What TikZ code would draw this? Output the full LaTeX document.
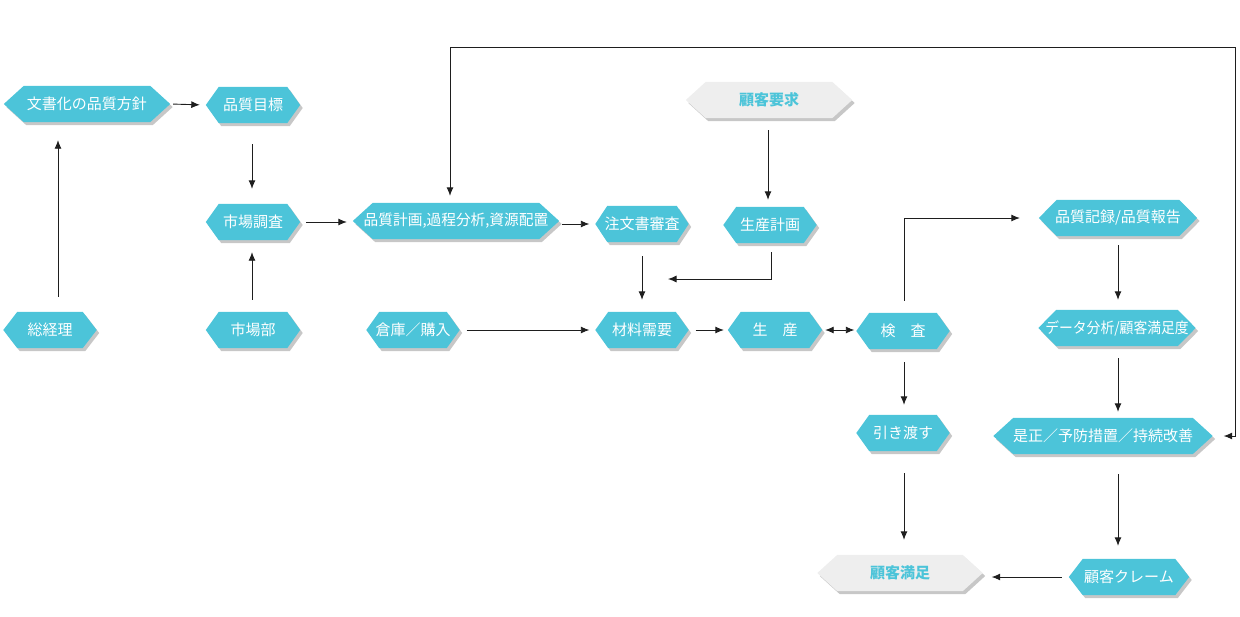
\documentclass[tikz,border=0pt]{standalone}
\usepackage{fontspec}
\newfontfamily\jp{Noto Sans CJK JP}
\usetikzlibrary{arrows.meta,backgrounds,calc}
\definecolor{hexcyan}{HTML}{4CC4D9}
\definecolor{hexgray}{HTML}{EEEEEE}
\definecolor{linec}{HTML}{1E1E1E}
\tikzset{
  hexlabel/.style={inner sep=0pt, minimum height=36pt, font=\jp\fontsize{15}{17}\selectfont},
  cyantext/.style={text=white},
  graytext/.style={text=hexcyan, font=\jp\bfseries\fontsize{15}{17}\selectfont},
  hexshadow/.style={fill=black!22},
  link/.style={draw=linec, line width=0.9pt, -{Latex[length=8.5pt,width=7pt]}},
  twolink/.style={draw=linec, line width=0.9pt, {Latex[length=8.5pt,width=7pt]}-{Latex[length=8.5pt,width=7pt]}}
}
% #1 text style, #2 fill colour, #3 name, #4 position, #5 width, #6 chamfer, #7 text
\newcommand\hexnode[7]{%
  \node[hexlabel,#1,minimum width=#5pt] (#3) at (#4) {#7};
  \begin{scope}[on background layer]
    \fill[hexshadow]
      ([shift={(2.5pt,-3pt)}]#3.west) -- ([shift={(2.5pt,-3pt)},xshift=#6pt]#3.north west)
      -- ([shift={(2.5pt,-3pt)},xshift=-#6pt]#3.north east)
      -- ([shift={(2.5pt,-3pt)}]#3.east) -- ([shift={(2.5pt,-3pt)},xshift=-#6pt]#3.south east)
      -- ([shift={(2.5pt,-3pt)},xshift=#6pt]#3.south west) -- cycle;
    \fill[#2]
      (#3.west) -- ([xshift=#6pt]#3.north west) -- ([xshift=-#6pt]#3.north east)
      -- (#3.east) -- ([xshift=-#6pt]#3.south east) -- ([xshift=#6pt]#3.south west) -- cycle;
  \end{scope}
}
\begin{document}
\begin{tikzpicture}[x=1pt,y=-1pt]
\useasboundingbox (0,0) rectangle (1240,616);

\hexnode{cyantext}{hexcyan}{A}{87,104}{166}{20}{文書化の品質方針}
\hexnode{cyantext}{hexcyan}{B}{253,105}{94}{13}{品質目標}
\hexnode{cyantext}{hexcyan}{C}{253,222}{94}{13}{市場調査}
\hexnode{cyantext}{hexcyan}{D}{253,330}{94}{13}{市場部}
\hexnode{cyantext}{hexcyan}{E}{50,330}{93}{14}{総経理}
\hexnode{cyantext}{hexcyan}{F}{413,330}{93}{13}{倉庫／購入}
\hexnode{cyantext}{hexcyan}{G}{456,221}{206}{20}{\scalebox{0.98}[1]{品質計画,過程分析,資源配置}}
\hexnode{cyantext}{hexcyan}{H}{642,224}{93}{12}{注文書審査}
\hexnode{graytext}{hexgray}{I}{769,100}{166}{20}{顧客要求}
\hexnode{cyantext}{hexcyan}{J}{770,225}{93}{13}{生産計画}
\hexnode{cyantext}{hexcyan}{K}{642,330}{93}{13}{材料需要}
\hexnode{cyantext}{hexcyan}{L}{775,330}{94}{13}{生　産}
\hexnode{cyantext}{hexcyan}{M}{903,331}{93}{13}{検　査}
\hexnode{cyantext}{hexcyan}{N}{903,433}{93}{13}{引き渡す}
\hexnode{graytext}{hexgray}{O}{900,573}{165}{20}{顧客満足}
\hexnode{cyantext}{hexcyan}{P}{1118,218}{158}{18}{品質記録/品質報告}
\hexnode{cyantext}{hexcyan}{Q}{1117,328}{157}{18}{\scalebox{0.92}[1]{データ分析/顧客満足度}}
\hexnode{cyantext}{hexcyan}{R}{1103,436}{219}{20}{是正／予防措置／持続改善}
\hexnode{cyantext}{hexcyan}{S}{1129,577}{120}{14}{顧客クレーム}

\coordinate (loopTL) at (450,47);
\coordinate (loopTR) at (1235,47);
\coordinate (JKbend) at (771,279);
\coordinate (JKend) at (668,279);

\draw[link, shorten <=3pt, shorten >=6pt] (A.east) -- (B.west);
\draw[link, shorten <=15pt, shorten >=18pt] ([xshift=8pt]E.north) -- ([xshift=8pt]E.north |- A.south);
\draw[link, shorten <=21pt, shorten >=15pt] ([xshift=-1pt]B.south) -- ([xshift=-1pt]C.north);
\draw[link, shorten <=12pt, shorten >=12pt] ([xshift=-1pt]D.north) -- ([xshift=-1pt]C.south);
\draw[link, shorten <=6pt, shorten >=6pt] (C.east) -- (C.east -| G.west);
\draw[link, shorten <=3pt, shorten >=6pt] (H.west -| G.east) -- (H.west);
\draw[twolink, shorten <=11pt, shorten >=7pt] (R.east) -- (loopTR |- R.east) -- (loopTR) -- (loopTL) -- ([xshift=-6pt]G.north);
\draw[link, shorten <=12pt, shorten >=7pt] ([xshift=-1pt]I.south) -- ([xshift=-1pt]I.south |- J.north);
\draw[link, shorten <=14pt, shorten >=12pt] (H.south) -- (H.south |- K.north);
\draw[link, shorten <=9pt] ([xshift=1pt]J.south) -- (JKbend) -- (JKend);
\draw[link, shorten <=7pt, shorten >=6pt] (F.east) -- (K.west);
\draw[link, shorten <=7pt, shorten >=4pt] (K.east) -- (L.west);
\draw[twolink, shorten <=3pt, shorten >=2pt] (L.east) -- (L.east -| M.west);
\draw[link, shorten <=12pt, shorten >=19pt] ([xshift=1pt]M.north) -- ([xshift=1pt]M.north |- P.west) -- (P.west);
\draw[link, shorten <=13pt, shorten >=10pt] ([xshift=1pt]M.south) -- ([xshift=1pt]N.north);
\draw[link, shorten <=22pt, shorten >=15pt] ([xshift=1pt]N.south) -- ([xshift=1pt]N.south |- O.north);
\draw[link, shorten <=9pt, shorten >=10pt] (P.south) -- (P.south |- Q.north);
\draw[link, shorten <=12pt, shorten >=6pt] ([xshift=1pt]Q.south) -- ([xshift=1pt]Q.south |- R.north);
\draw[link, shorten <=20pt, shorten >=13pt] ([xshift=15pt]R.south) -- ([xshift=15pt]R.south |- S.north);
\draw[link, shorten <=7pt, shorten >=9pt] (S.west) -- (S.west -| O.east);
\end{tikzpicture}
\end{document}
